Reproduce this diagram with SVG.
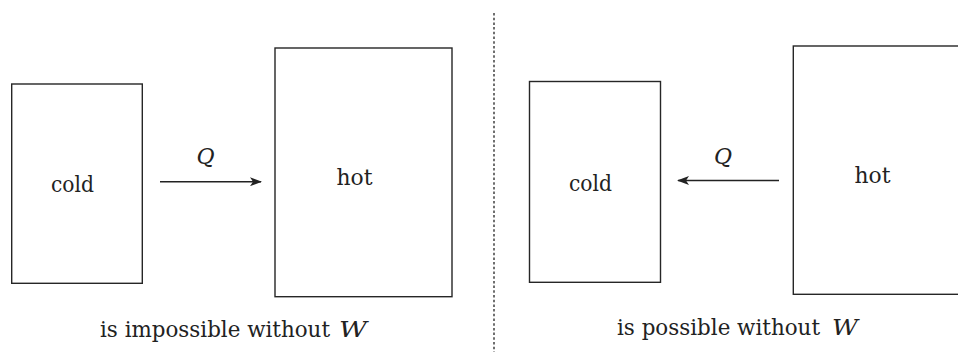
<svg xmlns="http://www.w3.org/2000/svg" width="958" height="354" viewBox="0 0 958 354">
<style>
.box{fill:none;stroke:#262626;stroke-width:1.4}
.lbl{font-family:'DejaVu Serif','Liberation Serif',serif;font-size:22px;fill:#222}
.it{font-style:italic}
.arr{stroke:#222;stroke-width:1.4;fill:none}
.sep{stroke:#333;stroke-width:1.4;stroke-dasharray:2.5 2.2}
</style>
<defs>
<marker id="ah" markerWidth="12" markerHeight="9" refX="11" refY="4.5" orient="auto" markerUnits="userSpaceOnUse">
<path d="M0,0 L12,4.5 L0,9 L3,4.5 Z" fill="#222"/>
</marker>
</defs>
<rect width="958" height="354" fill="#fff"/>
<g id="cold-left">
<rect class="box" x="11.7" y="84" width="130.6" height="199.3"/>
<text class="lbl" x="72.5" y="191.5" text-anchor="middle" textLength="43" lengthAdjust="spacingAndGlyphs">cold</text>
</g>
<g id="hot-left">
<rect class="box" x="275" y="48" width="177" height="248.7"/>
<text class="lbl" x="354.5" y="185" text-anchor="middle" textLength="36" lengthAdjust="spacingAndGlyphs">hot</text>
</g>
<g id="cold-right">
<rect class="box" x="529.5" y="81.5" width="131" height="200.8"/>
<text class="lbl" x="590.5" y="190.7" text-anchor="middle" textLength="43" lengthAdjust="spacingAndGlyphs">cold</text>
</g>
<g id="hot-right">
<rect class="box" x="793.3" y="46" width="180" height="248.3"/>
<text class="lbl" x="872.5" y="183.3" text-anchor="middle" textLength="36" lengthAdjust="spacingAndGlyphs">hot</text>
</g>
<g id="connectors">
<line class="arr" x1="160" y1="181.7" x2="261" y2="181.7" marker-end="url(#ah)"/>
<line class="arr" x1="779" y1="180.5" x2="678" y2="180.5" marker-end="url(#ah)"/>
<line class="sep" x1="494" y1="13" x2="494" y2="352"/>
</g>
<g id="labels">
<text class="lbl it" x="205.5" y="164" text-anchor="middle" font-size="23">Q</text>
<text class="lbl it" x="723" y="164" text-anchor="middle" font-size="23">Q</text>
<text class="lbl" x="100" y="336.7" textLength="230" lengthAdjust="spacingAndGlyphs">is impossible without</text>
<text class="lbl it" x="339" y="336.7" textLength="28" lengthAdjust="spacingAndGlyphs">W</text>
<text class="lbl" x="617" y="335" textLength="203" lengthAdjust="spacingAndGlyphs">is possible without</text>
<text class="lbl it" x="832" y="335" textLength="26" lengthAdjust="spacingAndGlyphs">W</text>
</g>
</svg>
